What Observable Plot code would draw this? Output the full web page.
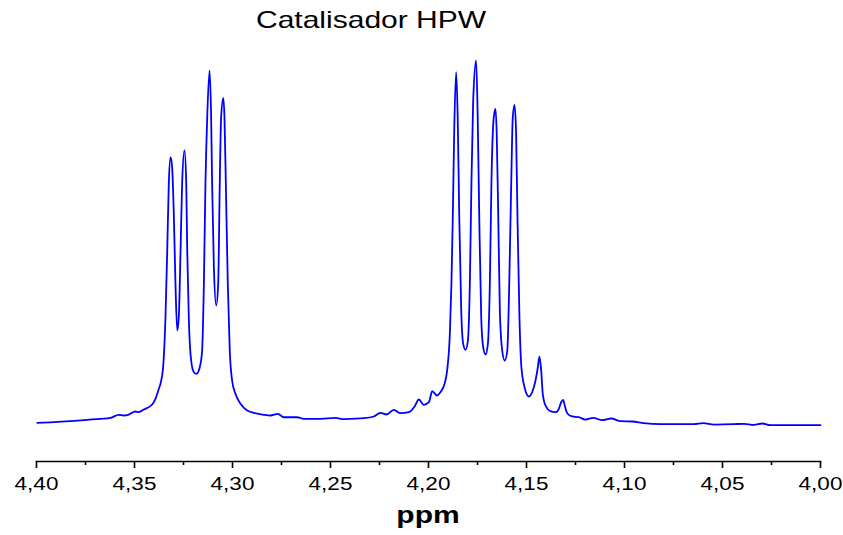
<!DOCTYPE html>
<html>
<head>
<meta charset="utf-8">
<script src="https://cdn.jsdelivr.net/npm/d3@7"></script>
<script src="https://cdn.jsdelivr.net/npm/@observablehq/plot@0.6"></script>
<style>
  body { margin: 0; background: #fff; }
  #wrap { position: relative; width: 843px; height: 535px; font-family: "Liberation Sans", Arial, sans-serif; color: #000; }
  #title { position: absolute; left: 256px; top: 8px; font-size: 24px; line-height: 24px; white-space: nowrap; transform: scaleX(1.25); transform-origin: left top; }
  #xlabel { position: absolute; left: 36px; width: 784px; top: 503px; font-size: 24px; line-height: 24px; font-weight: bold; text-align: center; transform: scaleX(1.25); transform-origin: center top; }
  #chart { position: absolute; left: 0; top: 0; }
</style>
</head>
<body>
<div id="wrap">
  <div id="chart"></div>
  <div id="title">Catalisador HPW</div>
  <div id="xlabel">ppm</div>
</div>
<script>
// Chemical shift (ppm) and intensity (% of tallest peak)
const ppm = [
  4.3996, 4.3912, 4.3827, 4.3741, 4.3673, 4.3622, 4.3580, 4.3555, 4.3529, 4.3495,
  4.3478, 4.3453, 4.3410, 4.3393, 4.3376, 4.3367, 4.3354, 4.3342, 4.3333, 4.3325,
  4.3316, 4.3308, 4.3299, 4.3291, 4.3282, 4.3274, 4.3265, 4.3257, 4.3245, 4.3236,
  4.3231, 4.3223, 4.3211, 4.3197, 4.3184, 4.3167, 4.3155, 4.3146, 4.3138, 4.3129,
  4.3117, 4.3109, 4.3104, 4.3095, 4.3083, 4.3073, 4.3065, 4.3058, 4.3047, 4.3041,
  4.3034, 4.3024, 4.3014, 4.3002, 4.2985, 4.2959, 4.2925, 4.2891, 4.2840, 4.2806,
  4.2769, 4.2738, 4.2670, 4.2636, 4.2551, 4.2474, 4.2432, 4.2398, 4.2330, 4.2279,
  4.2245, 4.2214, 4.2177, 4.2143, 4.2100, 4.2071, 4.2049, 4.2024, 4.1998, 4.1981,
  4.1956, 4.1939, 4.1918, 4.1905, 4.1891, 4.1883, 4.1876, 4.1869, 4.1859, 4.1851,
  4.1843, 4.1833, 4.1823, 4.1811, 4.1799, 4.1789, 4.1781, 4.1772, 4.1757, 4.1749,
  4.1741, 4.1731, 4.1721, 4.1709, 4.1697, 4.1687, 4.1679, 4.1667, 4.1658, 4.1652,
  4.1644, 4.1636, 4.1624, 4.1611, 4.1598, 4.1588, 4.1578, 4.1570, 4.1561, 4.1553,
  4.1546, 4.1536, 4.1526, 4.1510, 4.1488, 4.1468, 4.1454, 4.1442, 4.1434, 4.1425,
  4.1417, 4.1403, 4.1378, 4.1352, 4.1335, 4.1323, 4.1313, 4.1305, 4.1292, 4.1267,
  4.1233, 4.1199, 4.1160, 4.1114, 4.1068, 4.1020, 4.0961, 4.0902, 4.0816, 4.0731,
  4.0646, 4.0598, 4.0544, 4.0442, 4.0391, 4.0340, 4.0297, 4.0255, 4.0136, 4.0000
];
const intensity = [
  0.74, 0.90, 1.18, 1.56, 1.84, 2.11, 2.93, 2.74, 3.01, 3.84,
  3.64, 4.38, 5.75, 7.32, 10.05, 11.51, 15.97, 29.67, 47.95, 66.30,
  73.51, 70.77, 57.07, 38.90, 26.03, 29.67, 47.95, 66.30, 75.34, 66.30,
  47.95, 29.67, 17.81, 14.60, 14.16, 15.97, 20.55, 38.90, 66.30, 84.47,
  97.26, 84.47, 66.30, 43.37, 32.88, 38.90, 66.30, 84.47, 89.67, 84.47,
  66.30, 38.90, 20.55, 12.33, 8.68, 5.95, 4.11, 3.48, 2.93, 2.74,
  3.21, 2.27, 2.27, 1.84, 1.84, 2.11, 1.73, 1.84, 2.00, 2.47,
  3.48, 3.01, 4.30, 3.37, 3.64, 5.21, 7.12, 5.67, 6.38, 9.40,
  8.22, 9.12, 11.42, 15.07, 25.21, 38.90, 57.07, 80.00, 96.79, 84.47,
  57.07, 31.51, 22.38, 20.74, 23.29, 38.90, 66.30, 89.04, 100.00, 84.47,
  57.07, 29.67, 21.45, 19.45, 22.38, 38.90, 66.30, 84.47, 86.77, 80.00,
  57.07, 31.51, 20.55, 17.81, 20.55, 38.90, 66.30, 84.47, 87.86, 79.92,
  57.07, 29.67, 15.97, 10.49, 7.95, 9.59, 12.33, 15.97, 18.90, 15.07,
  8.68, 5.48, 3.92, 3.64, 4.58, 6.38, 7.04, 5.48, 3.37, 2.47,
  2.27, 1.64, 2.11, 1.45, 1.92, 1.18, 1.10, 0.63, 0.36, 0.36,
  0.36, 0.63, 0.27, 0.36, 0.47, 0.19, 0.55, 0.08, 0.08, 0.08
];
const majorTicks = [4.40, 4.35, 4.30, 4.25, 4.20, 4.15, 4.10, 4.05, 4.00];
const tickLabels = ["4,40", "4,35", "4,30", "4,25", "4,20", "4,15", "4,10", "4,05", "4,00"];
const minorTicks = [4.375, 4.325, 4.275, 4.225, 4.175, 4.125, 4.075, 4.025];
const xDomain = [4.40, 4.00];
const yDomain = [-9.86, 116.44];

const spectrum = ppm.map((p, i) => ({ppm: p, intensity: intensity[i]}));

const chart = Plot.plot({
  width: 843,
  height: 535,
  marginLeft: 36,
  marginRight: 23,
  marginTop: 0,
  marginBottom: 74,
  style: {fontFamily: '"Liberation Sans", Arial, sans-serif', fontSize: "18px", color: "#000", background: "transparent"},
  x: {domain: xDomain},
  y: {domain: yDomain, axis: null},
  marks: [
    Plot.frame({anchor: "bottom", stroke: "#000", strokeWidth: 1.6}),
    Plot.axisX(majorTicks, {anchor: "bottom", tickSize: 7, tickPadding: 9, strokeWidth: 1.6, fontSize: 18,
      tickFormat: d => tickLabels[majorTicks.indexOf(d)], label: null}),
    Plot.axisX(minorTicks, {anchor: "bottom", tickSize: 4, strokeWidth: 1.6, text: null, label: null}),
    Plot.line(spectrum, {x: "ppm", y: "intensity", stroke: "#0000ff", strokeWidth: 1.8, curve: "monotone-x"})
  ]
});
document.getElementById("chart").appendChild(chart);
// Horizontally stretch tick labels like the original export
chart.querySelectorAll("text").forEach(t => {
  const tr = t.getAttribute("transform") || "";
  t.setAttribute("transform", tr + " scale(1.25,1)");
});
</script>
</body>
</html>
